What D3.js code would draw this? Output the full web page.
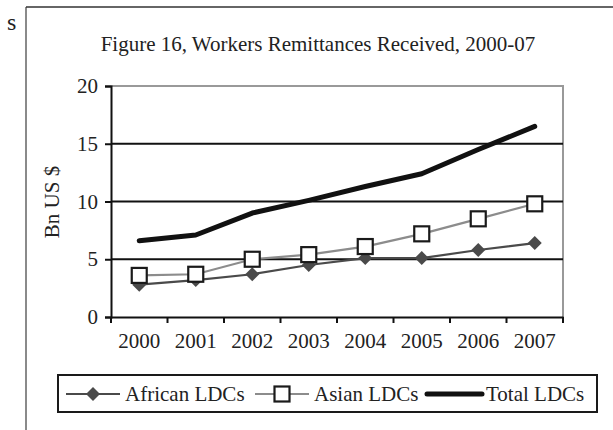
<!DOCTYPE html>
<html>
<head>
<meta charset="utf-8">
<script src="https://cdn.jsdelivr.net/npm/d3@7"></script>
<style>
  body { margin: 0; background: #fff; }
  svg text { font-family: "Liberation Serif", "DejaVu Serif", serif; fill: #222; }
</style>
</head>
<body>
<div id="chart"></div>
<script>
// data (Bn US $)
const years = ["2000", "2001", "2002", "2003", "2004", "2005", "2006", "2007"];
const african = [2.8, 3.2, 3.7, 4.5, 5.1, 5.1, 5.8, 6.4];
const asian = [3.6, 3.7, 5.0, 5.4, 6.1, 7.2, 8.5, 9.8];
const total = [6.6, 7.1, 9.0, 10.1, 11.3, 12.4, 14.5, 16.5];
const yTicks = [0, 5, 10, 15, 20];

const width = 613, height = 430;
const plot = {left: 111, right: 563, top: 86, bottom: 317};

let svg = d3.select("#chart")
    .append("svg")
    .attr("width", width)
    .attr("height", height);

// page frame + stray letter from the scanned page
svg.append("line").attr("x1", 26).attr("x2", 26).attr("y1", 7).attr("y2", height)
    .style("stroke", "#8a8a8a").style("stroke-width", 2);
svg.append("line").attr("x1", 26).attr("x2", width).attr("y1", 7).attr("y2", 7)
    .style("stroke", "#333").style("stroke-width", 1.5);
svg.append("text").attr("x", 7).attr("y", 30).style("font-size", "24px").text("s");

let x = d3.scaleBand()
    .domain(years)
    .range([plot.left, plot.right]);

let y = d3.scaleLinear()
    .domain([0, 20])
    .range([plot.bottom, plot.top]);

// title
svg.append("text")
    .attr("x", 318)
    .attr("y", 51)
    .style("text-anchor", "middle")
    .style("font-size", "21px")
    .text("Figure 16, Workers Remittances Received, 2000-07");

// plot border (gray top and right)
svg.append("path")
    .attr("d", `M${plot.left},${plot.top}H${plot.right}V${plot.bottom}`)
    .style("fill", "none")
    .style("stroke", "#999")
    .style("stroke-width", 2);

// gridlines
svg.append("g")
    .selectAll("line")
    .data(yTicks.filter(d => d > 0 && d < 20))
    .enter()
    .append("line")
    .attr("x1", plot.left)
    .attr("x2", plot.right)
    .attr("y1", d => y(d))
    .attr("y2", d => y(d))
    .style("stroke", "#111")
    .style("stroke-width", 2);

// y axis
let yAxis = svg.append("g")
    .attr("transform", `translate(${plot.left}, 0)`)
    .call(d3.axisLeft(y).tickValues(yTicks).tickSize(6).tickPadding(7));
yAxis.select(".domain").style("stroke", "#111").style("stroke-width", 2);
yAxis.selectAll(".tick line").style("stroke", "#111").style("stroke-width", 2);
yAxis.selectAll("text").style("font-size", "21px").style("font-family", "Liberation Serif").attr("fill", "#222");

// x axis, ticks between categories
let xAxis = svg.append("g")
    .attr("transform", `translate(0, ${plot.bottom})`)
    .call(d3.axisBottom(x).tickSize(0).tickPadding(16));
xAxis.select(".domain").style("stroke", "#111").style("stroke-width", 2);
xAxis.selectAll("text").style("font-size", "21px").style("font-family", "Liberation Serif").attr("fill", "#222");
svg.append("g")
    .selectAll("line")
    .data(years.concat(["end"]))
    .enter()
    .append("line")
    .attr("x1", (d, i) => plot.left + i * x.step())
    .attr("x2", (d, i) => plot.left + i * x.step())
    .attr("y1", plot.bottom)
    .attr("y2", plot.bottom + 6)
    .style("stroke", "#111")
    .style("stroke-width", 2);

// y axis label
svg.append("text")
    .attr("transform", "translate(59, 202) rotate(-90)")
    .style("text-anchor", "middle")
    .style("font-size", "21px")
    .text("Bn US $");

let cx = d => x(d) + x.bandwidth() / 2;
let lineGen = d3.line().x((d, i) => cx(years[i])).y(d => y(d));

// lines
svg.append("path").datum(african).attr("d", lineGen)
    .style("fill", "none").style("stroke", "#4a4a4a").style("stroke-width", 2.2);
svg.append("path").datum(asian).attr("d", lineGen)
    .style("fill", "none").style("stroke", "#8c8c8c").style("stroke-width", 2.2);
svg.append("path").datum(total).attr("d", lineGen)
    .style("fill", "none").style("stroke", "#111").style("stroke-width", 5)
    .style("stroke-linejoin", "round").style("stroke-linecap", "round");

// markers
let diamond = d3.symbol().type(d3.symbolDiamond2).size(125);
svg.append("g").selectAll("path")
    .data(african)
    .enter()
    .append("path")
    .attr("d", diamond)
    .attr("transform", (d, i) => `translate(${cx(years[i])}, ${y(d)})`)
    .style("fill", "#4a4a4a");

svg.append("g").selectAll("rect")
    .data(asian)
    .enter()
    .append("rect")
    .attr("x", (d, i) => cx(years[i]) - 7.5)
    .attr("y", d => y(d) - 7.5)
    .attr("width", 15)
    .attr("height", 15)
    .style("fill", "#fff")
    .style("stroke", "#1a1a1a")
    .style("stroke-width", 2.2);

// legend
let legend = svg.append("g");
legend.append("rect")
    .attr("x", 58).attr("y", 375).attr("width", 539).attr("height", 37)
    .style("fill", "#fff").style("stroke", "#1a1a1a").style("stroke-width", 2);

let ly = 394;
legend.append("line").attr("x1", 66).attr("x2", 120).attr("y1", ly).attr("y2", ly)
    .style("stroke", "#4a4a4a").style("stroke-width", 2.2);
legend.append("path").attr("d", diamond).attr("transform", `translate(93, ${ly})`).style("fill", "#4a4a4a");
legend.append("text").attr("x", 125).attr("y", ly + 7).style("font-size", "21px").text("African LDCs");

legend.append("line").attr("x1", 255).attr("x2", 309).attr("y1", ly).attr("y2", ly)
    .style("stroke", "#8c8c8c").style("stroke-width", 2.2);
legend.append("rect").attr("x", 274.5).attr("y", ly - 7.5).attr("width", 15).attr("height", 15)
    .style("fill", "#fff").style("stroke", "#1a1a1a").style("stroke-width", 2.2);
legend.append("text").attr("x", 314).attr("y", ly + 7).style("font-size", "21px").text("Asian LDCs");

legend.append("line").attr("x1", 427).attr("x2", 482).attr("y1", ly).attr("y2", ly)
    .style("stroke", "#111").style("stroke-width", 5).style("stroke-linecap", "round");
legend.append("text").attr("x", 486).attr("y", ly + 7).style("font-size", "21px").text("Total LDCs");
</script>
</body>
</html>
